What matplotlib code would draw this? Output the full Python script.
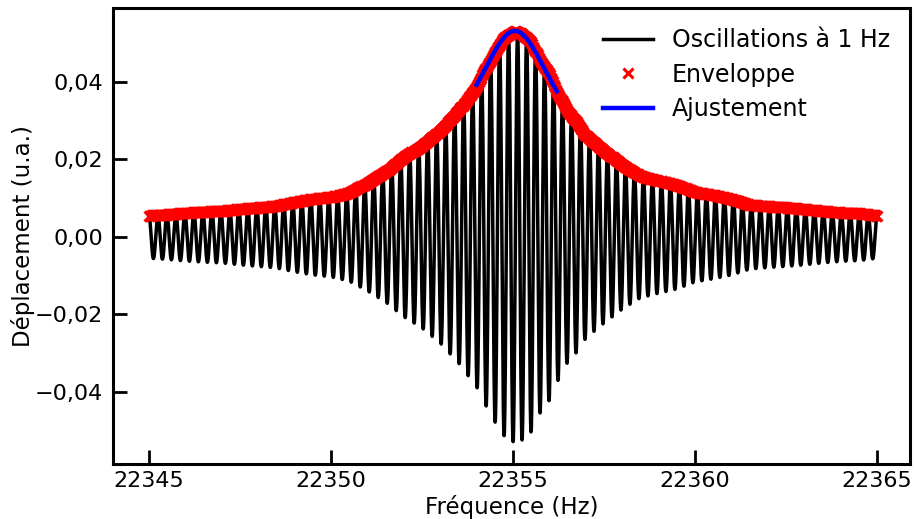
import numpy as np
import matplotlib
matplotlib.use("Agg")
import matplotlib.pyplot as plt
from matplotlib.ticker import FuncFormatter, MultipleLocator

# ---- data ----
# envelope knots (Hz, amplitude u.a.)
env_freq = [22345.0, 22345.5, 22346.0, 22346.5, 22347.0, 22347.5, 22348.0, 22348.5,
            22349.0, 22349.5, 22350.0, 22350.5, 22351.0, 22351.5, 22352.0, 22352.5,
            22353.0, 22353.5, 22354.0, 22354.25, 22354.5, 22354.75, 22355.05, 22355.25,
            22355.5, 22355.75, 22356.0, 22356.25, 22356.5, 22356.75, 22357.0, 22357.5,
            22358.0, 22358.5, 22359.0, 22359.5, 22360.0, 22360.5, 22361.0, 22361.5,
            22362.0, 22362.5, 22363.0, 22363.5, 22364.0, 22364.5, 22365.0]
env_amp = [0.0055, 0.0058, 0.0062, 0.0065, 0.0067, 0.0072, 0.0076, 0.0080,
           0.0090, 0.0098, 0.0103, 0.0114, 0.0139, 0.0168, 0.0206, 0.0235,
           0.0274, 0.0325, 0.0387, 0.0435, 0.0477, 0.0513, 0.0532, 0.0524,
           0.0503, 0.0453, 0.0421, 0.0367, 0.0323, 0.0297, 0.0261, 0.0222,
           0.0186, 0.0157, 0.0145, 0.0134, 0.0116, 0.0108, 0.0098, 0.0083,
           0.0079, 0.0076, 0.0072, 0.0067, 0.0063, 0.0061, 0.0055]

# oscillation: cycles per Hz of sweep and phase reference (max) position
osc_cycles_per_hz = 4.05
osc_ref_freq = 22354.877

# Lorentzian fit parameters (amplitude, centre, half width) and fit range
fit_amp = 0.0532
fit_f0 = 22355.05
fit_gamma = 1.15
fit_range = [22354.0, 22356.2]

sweep_range = [22345.0, 22365.0]

xticks = [22345, 22350, 22355, 22360, 22365]

# ---- build curves ----
f = np.linspace(sweep_range[0], sweep_range[1], 4000)
env = np.interp(f, env_freq, env_amp)
signal = env * np.cos(2 * np.pi * osc_cycles_per_hz * (f - osc_ref_freq))

f_env = np.linspace(sweep_range[0], sweep_range[1], 700)
env_pts = np.interp(f_env, env_freq, env_amp)

f_fit = np.linspace(fit_range[0], fit_range[1], 200)
fit = fit_amp / np.sqrt(1 + ((f_fit - fit_f0) / fit_gamma) ** 2)

# ---- plot ----
plt.rcParams['font.family'] = ['DejaVu Sans']
plt.rcParams['font.size'] = 16.5

fig = plt.figure(figsize=(9.14, 5.19), dpi=100)
ax = fig.add_axes([112.5 / 914, 1 - 464 / 519, (910 - 112.5) / 914, (464 - 8) / 519])

ax.plot(f, signal, color='black', lw=2.5, label='Oscillations à 1 Hz', zorder=2)
ax.plot(f_env, env_pts, ls='none', marker='x', color='red', ms=7.5, mew=2.2,
        label='Enveloppe', zorder=3)
ax.plot(f_fit, fit, color='blue', lw=3.2, label='Ajustement', zorder=4)

ax.set_xlim(22344.0, 22365.9)
ax.set_ylim(-0.0586, 0.0591)
ax.set_xticks(xticks)
ax.set_xticklabels([str(t) for t in xticks])
ax.yaxis.set_major_locator(MultipleLocator(0.02))
ax.yaxis.set_major_formatter(FuncFormatter(
    lambda v, p: (f"{v:.2f}".replace('.', ',').replace('-', '\u2212')) if abs(v) > 1e-9 else "0,00"))

ax.tick_params(direction='in', length=10, width=2, labelsize=16, pad=5)
ax.tick_params(axis='y', pad=7)
for s in ax.spines.values():
    s.set_linewidth(2.2)

ax.set_xlabel('Fréquence (Hz)', fontsize=16.5, labelpad=3)
ax.set_ylabel('Déplacement (u.a.)', fontsize=16.5, labelpad=0)

ax.legend(loc='upper right', frameon=False, numpoints=1, fontsize=17,
          handlelength=2.1, borderaxespad=0.45, labelspacing=0.45)

fig.savefig('out.png', dpi=100)
